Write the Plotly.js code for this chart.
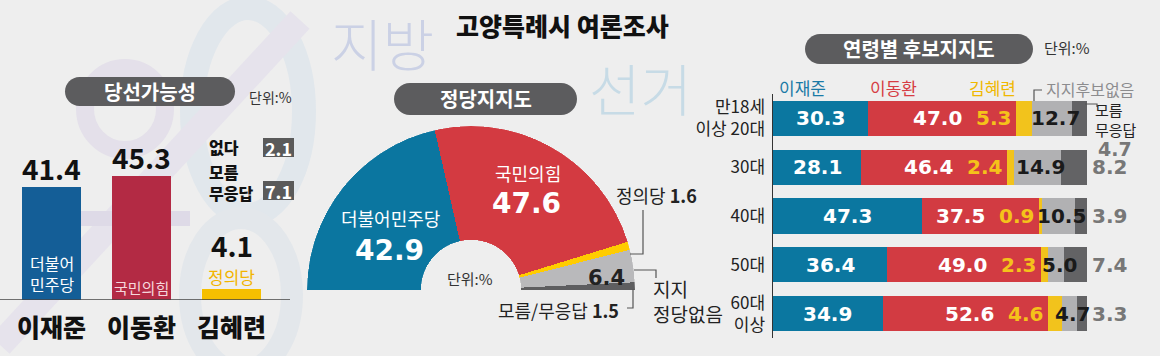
<!DOCTYPE html>
<html><head><meta charset="utf-8">
<script src="https://cdn.plot.ly/plotly-3.0.1.min.js"></script>
<style>html,body{margin:0;padding:0;background:#eeeeee;}#chart{width:1160px;height:356px;}</style>
</head><body><div id="chart"></div>
<script>
// ---------- data ----------
const candidates = ['이재준', '이동환', '김혜련'];
const candidateParties = ['더불어<br>민주당', '국민의힘', '정의당'];
const winChance = [41.4, 45.3, 4.1];
const winOtherLabels = ['없다', '모름<br>무응답'];
const winOtherValues = [2.1, 7.1];

const partyLabels = ['더불어민주당', '국민의힘', '정의당', '지지<br>정당없음', '모름/무응답'];
const partySupport = [42.9, 47.6, 1.6, 6.4, 1.5];

const ageLabels = ['만18세<br>이상 20대', '30대', '40대', '50대', '60대<br>이상'];
const seriesNames = ['이재준', '이동환', '김혜련', '지지후보없음', '모름<br>무응답'];
const ageLeeJJ = [30.3, 28.1, 47.3, 36.4, 34.9];
const ageLeeDH = [47.0, 46.4, 37.5, 49.0, 52.6];
const ageKim = [5.3, 2.4, 0.9, 2.3, 4.6];
const ageNone = [12.7, 14.9, 10.5, 5.0, 4.7];
const ageUnknown = [4.7, 8.2, 3.9, 7.4, 3.3];

// ---------- helpers ----------
const W = 1160, H = 356;
const KR = '"Noto Sans CJK KR", "Noto Sans", sans-serif';
const NUM = '"DejaVu Sans", sans-serif';
const px = x => x / W, py = y => 1 - y / H;
function font(size, color, weight, family) { return {family: family || KR, size: size, color: color || '#222', weight: weight || 400}; }
function pann(x, y, text, f, extra) {
  return Object.assign({xref: 'paper', yref: 'paper', x: px(x), y: py(y), text: text, showarrow: false,
    xanchor: 'center', yanchor: 'middle', font: f}, extra || {});
}
function pill(x0, y0, x1, y1, color) {
  const r = (y1 - y0) / 2, k = 0.5523, ym = (y0 + y1) / 2;
  const P = (x, y) => px(x) + ',' + py(y);
  const d = 'M' + P(x0 + r, y0) + ' L' + P(x1 - r, y0) +
    ' C' + P(x1 - r + k * r, y0) + ' ' + P(x1, ym - k * r) + ' ' + P(x1, ym) +
    ' C' + P(x1, ym + k * r) + ' ' + P(x1 - r + k * r, y1) + ' ' + P(x1 - r, y1) +
    ' L' + P(x0 + r, y1) +
    ' C' + P(x0 + r - k * r, y1) + ' ' + P(x0, ym + k * r) + ' ' + P(x0, ym) +
    ' C' + P(x0, ym - k * r) + ' ' + P(x0 + r - k * r, y0) + ' ' + P(x0 + r, y0) + ' Z';
  return {type: 'path', xref: 'paper', yref: 'paper', path: d, fillcolor: color, line: {width: 0}, layer: 'above'};
}
function polyline(pts, color, width) {
  const d = pts.map((p, i) => (i ? 'L' : 'M') + px(p[0]) + ',' + py(p[1])).join(' ');
  return {type: 'path', xref: 'paper', yref: 'paper', path: d, line: {color: color, width: width || 1.2}, layer: 'above'};
}
function prect(x0, y0, x1, y1, color, layer) {
  return {type: 'rect', xref: 'paper', yref: 'paper', x0: px(x0), x1: px(x1), y0: py(y1), y1: py(y0),
    fillcolor: color, line: {width: 0}, layer: layer || 'above'};
}

const traces = [];
const annotations = [];
const shapes = [];

// ---------- background decoration ----------
shapes.push({type: 'circle', xref: 'paper', yref: 'paper', x0: px(192), x1: px(304), y0: py(215), y1: py(8),
  line: {color: '#e1e7ec', width: 24}, fillcolor: 'rgba(0,0,0,0)', layer: 'below'});
shapes.push({type: 'circle', xref: 'paper', yref: 'paper', x0: px(190), x1: px(292), y0: py(372), y1: py(218),
  line: {color: '#e3e7eb', width: 22}, fillcolor: 'rgba(0,0,0,0)', layer: 'below'});
shapes.push({type: 'path', xref: 'paper', yref: 'paper', path: 'M' + px(0) + ',' + py(345) + ' L' + px(300) + ',' + py(20),
  line: {color: '#e6e3ec', width: 26}, layer: 'below'});
shapes.push({type: 'circle', xref: 'paper', yref: 'paper', x0: px(85), x1: px(165), y0: py(150), y1: py(68),
  line: {color: '#e4e0ea', width: 18}, fillcolor: 'rgba(0,0,0,0)', layer: 'below'});
shapes.push(prect(60, 211, 190, 226, '#dedae7', 'below'));
annotations.push(pann(382, 42, '지방', font(56, '#cbd1e5', 300)));
annotations.push(pann(640, 86, '선거', font(56, '#c7dbe6', 300)));

// ---------- title ----------
annotations.push(pann(562, 25, '고양특례시 여론조사', font(25, '#111', 900)));

// ---------- left: 당선가능성 ----------
shapes.push(pill(65, 77, 235, 106, '#5c5c5e'));
annotations.push(pann(150, 91, '당선가능성', font(20, '#ffffff', 700)));
annotations.push(pann(270, 97, '단위:%', font(14, '#333')));

traces.push({type: 'bar', x: [0, 1, 2], y: winChance, width: 0.656, xaxis: 'x', yaxis: 'y',
  marker: {color: ['#145e97', '#b32a44', '#f6bf00'], line: {width: 0}}, hoverinfo: 'skip', showlegend: false});
shapes.push({type: 'line', xref: 'paper', yref: 'y', x0: 0, x1: px(290), y0: 0, y1: 0, line: {color: '#444', width: 1.5}, layer: 'above'});
candidates.forEach((c, i) => {
  annotations.push({xref: 'x', yref: 'y', x: i, y: winChance[i], text: winChance[i].toFixed(1), showarrow: false,
    xanchor: 'center', yanchor: 'bottom', yshift: i === 2 ? 22 : -3, font: font(28, '#111', 700)});
  annotations.push({xref: 'x', yref: 'y', x: i, y: 0, text: c, showarrow: false,
    xanchor: 'center', yanchor: 'top', yshift: -6, font: font(25, '#111', 900)});
});
annotations.push({xref: 'x', yref: 'y', x: 0, y: 0, text: candidateParties[0], showarrow: false,
  xanchor: 'center', yanchor: 'bottom', yshift: 2, font: font(16, '#ffffff')});
annotations.push({xref: 'x', yref: 'y', x: 1, y: 0, text: candidateParties[1], showarrow: false,
  xanchor: 'center', yanchor: 'bottom', yshift: 0, font: font(15, '#f6d6dc')});
annotations.push({xref: 'x', yref: 'y', x: 2, y: winChance[2], text: candidateParties[2], showarrow: false,
  xanchor: 'center', yanchor: 'bottom', yshift: -2, font: font(17, '#f2b400')});
// 없다 / 모름 무응답
shapes.push(prect(263, 138, 294, 157, '#5a5a5a'));
shapes.push(prect(263, 181, 294, 200, '#5a5a5a'));
annotations.push(pann(207, 147, winOtherLabels[0], font(16, '#111', 900), {xanchor: 'left'}));
annotations.push(pann(207, 182, winOtherLabels[1], font(16, '#111', 900), {xanchor: 'left', align: 'left'}));
annotations.push(pann(278.5, 147.5, winOtherValues[0].toFixed(1), font(18, '#ffffff', 700)));
annotations.push(pann(278.5, 190.5, winOtherValues[1].toFixed(1), font(18, '#ffffff', 700)));

// ---------- middle: 정당지지도 (half donut) ----------
shapes.push(pill(394, 83, 577, 115, '#5c5c5e'));
annotations.push(pann(485.5, 99, '정당지지도', font(20, '#ffffff', 700)));
const partyColors = ['#0b76a0', '#d33a41', '#ffcc00', '#b9b9bb', '#5e5e60'];
const theta = [], widths = [];
let acc = 0;
partySupport.forEach(v => { theta.push((acc + v / 2) * 1.8); widths.push(v * 1.8); acc += v; });
traces.push({type: 'barpolar', r: partySupport.map(() => 1), theta: theta, width: widths, subplot: 'polar',
  marker: {color: partyColors, line: {width: 0}}, hoverinfo: 'skip', showlegend: false});
annotations.push(pann(390, 218, partyLabels[0], font(18, '#ffffff')));
annotations.push(pann(389, 250, partySupport[0].toFixed(1), font(28, '#ffffff', 700, NUM)));
annotations.push(pann(528, 173, partyLabels[1], font(18, '#ffffff')));
annotations.push(pann(526, 204, partySupport[1].toFixed(1), font(28, '#ffffff', 700, NUM)));
annotations.push(pann(614, 195, partyLabels[2] + ' <b>' + partySupport[2].toFixed(1) + '</b>', font(18, '#222'), {xanchor: 'left'}));
annotations.push(pann(606, 278, partySupport[3].toFixed(1), font(21, '#222', 700, NUM)));
annotations.push(pann(651, 301, partyLabels[3], font(19, '#222'), {xanchor: 'left', align: 'left'}));
annotations.push(pann(621, 310, partyLabels[4] + ' <b>' + partySupport[4].toFixed(1) + '</b>', font(18, '#222'), {xanchor: 'right'}));
annotations.push(pann(470, 278, '단위:%', font(15, '#333')));
shapes.push(polyline([[630, 254], [643, 254], [643, 210]], '#555'));
shapes.push(polyline([[634, 270], [656, 270], [656, 278]], '#555'));
shapes.push(polyline([[633, 289], [633, 308], [627, 308]], '#555'));

// ---------- right: 연령별 후보지지도 ----------
shapes.push(pill(805, 34, 1033, 64, '#5c5c5e'));
annotations.push(pann(919, 49, '연령별 후보지지도', font(20, '#ffffff', 700)));
annotations.push(pann(1067, 47, '단위:%', font(15, '#333')));
const rows = ageLabels.map((_, i) => i);
const ageSeries = [ageLeeJJ, ageLeeDH, ageKim, ageNone, ageUnknown];
const ageColors = ['#0b77a0', '#d23b42', '#f2c31c', '#b1b1b3', '#636365'];
ageSeries.forEach((s, k) => {
  traces.push({type: 'bar', orientation: 'h', x: s, y: rows, width: 0.72, xaxis: 'x2', yaxis: 'y2',
    name: seriesNames[k], marker: {color: ageColors[k], line: {width: 0}}, hoverinfo: 'skip', showlegend: false});
});
rows.forEach(i => {
  const c1 = ageLeeJJ[i], c2 = c1 + ageLeeDH[i], c3 = c2 + ageKim[i], c4 = c3 + ageNone[i];
  const base = {xref: 'x2', yref: 'y2', y: i, showarrow: false, yanchor: 'middle'};
  annotations.push(Object.assign({}, base, {x: c1 / 2, xanchor: 'center', text: ageLeeJJ[i].toFixed(1), font: font(20, '#ffffff', 700, NUM)}));
  annotations.push(Object.assign({}, base, {x: c2, xanchor: 'right', xshift: -52, text: ageLeeDH[i].toFixed(1), font: font(20, '#ffffff', 700, NUM)}));
  annotations.push(Object.assign({}, base, {x: c2, xanchor: 'right', xshift: -3, text: ageKim[i].toFixed(1), font: font(20, '#f5c21a', 700, NUM)}));
  annotations.push(Object.assign({}, base, {x: (c3 + c4) / 2, xanchor: 'center', xshift: 3, text: ageNone[i].toFixed(1), font: font(20, '#1a1a1a', 700, NUM)}));
  if (i === 0) {
    annotations.push(Object.assign({}, base, {x: 100, xanchor: 'left', xshift: 9, yshift: -31, text: ageUnknown[i].toFixed(1), font: font(19, '#777', 700, NUM)}));
  } else {
    annotations.push(Object.assign({}, base, {x: 100, xanchor: 'left', xshift: 3, text: ageUnknown[i].toFixed(1), font: font(20, '#777', 700, NUM)}));
  }
});
// series labels above first row
annotations.push({xref: 'x2', yref: 'paper', x: 0, y: py(88), xshift: 4, text: seriesNames[0], showarrow: false, xanchor: 'left', yanchor: 'middle', font: font(17, '#1a7aa6')});
annotations.push({xref: 'x2', yref: 'paper', x: ageLeeJJ[0], y: py(88), text: seriesNames[1], showarrow: false, xanchor: 'left', yanchor: 'middle', font: font(17, '#d63d44')});
annotations.push({xref: 'x2', yref: 'paper', x: ageLeeJJ[0] + ageLeeDH[0], y: py(88), xshift: 2, text: seriesNames[2], showarrow: false, xanchor: 'right', yanchor: 'middle', font: font(17, '#f0b800')});
annotations.push(pann(1044, 89, seriesNames[3], font(16, '#8c8c8e'), {xanchor: 'left'}));
annotations.push(pann(1093, 119, seriesNames[4], font(15, '#222'), {xanchor: 'left', align: 'left'}));
shapes.push(polyline([[1034, 101], [1034, 90], [1042, 90]], '#555'));
shapes.push(polyline([[1085, 104], [1097, 104], [1097, 107]], '#555'));

// ---------- layout ----------
const layout = {
  width: W, height: H, margin: {l: 0, r: 0, t: 0, b: 0},
  paper_bgcolor: '#eeeeee', plot_bgcolor: 'rgba(0,0,0,0)',
  barmode: 'stack', showlegend: false, font: {family: KR},
  xaxis: {domain: [px(6.5), px(276.5)], range: [-0.5, 2.5], visible: false, fixedrange: true},
  yaxis: {domain: [py(300), py(136)], range: [0, 60], visible: false, fixedrange: true},
  xaxis2: {domain: [px(773), px(1087)], range: [0, 100], visible: false, anchor: 'y2', fixedrange: true},
  yaxis2: {domain: [py(338), py(94)], range: [4.5, -0.5], anchor: 'x2', tickmode: 'array', tickvals: rows, ticktext: ageLabels,
    showline: true, linecolor: '#333', linewidth: 1.5, showgrid: false, zeroline: false, ticks: '', ticklabelstandoff: 3,
    tickfont: {family: KR, size: 17, color: '#222'}, fixedrange: true},
  polar: {domain: {x: [px(307), px(635)], y: [py(290), py(126)]}, sector: [0, 180], hole: 0.305,
    bgcolor: 'rgba(0,0,0,0)',
    radialaxis: {visible: false, range: [0, 1]},
    angularaxis: {visible: false, direction: 'clockwise', rotation: 180}},
  shapes: shapes, annotations: annotations
};
Plotly.newPlot('chart', traces, layout, {staticPlot: true, displayModeBar: false});
</script></body></html>
